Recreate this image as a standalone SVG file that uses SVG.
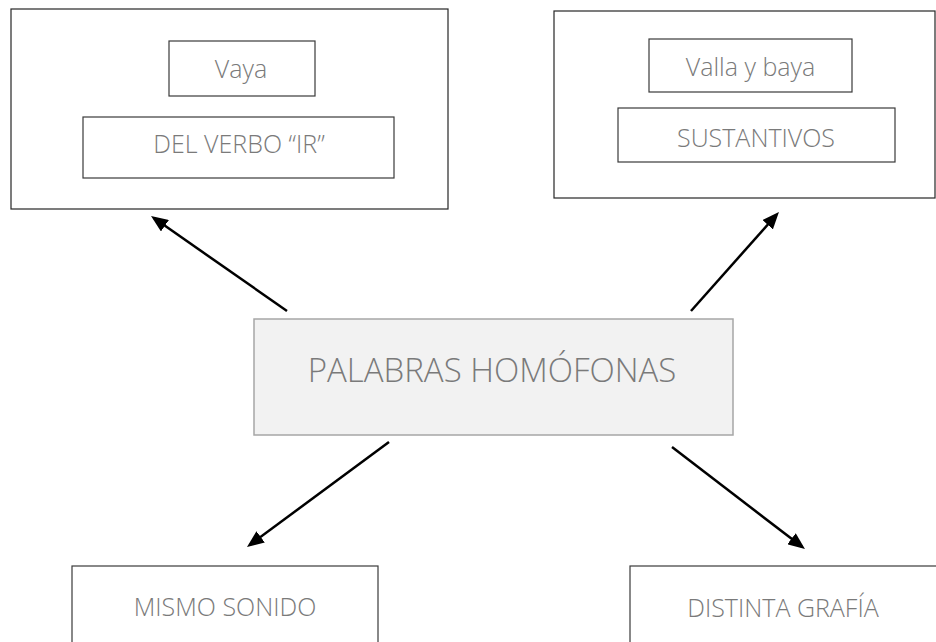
<svg xmlns="http://www.w3.org/2000/svg" width="936" height="642" viewBox="0 0 936 642">
<style>
.outer{fill:#ffffff;stroke:#262626;stroke-width:1.2}
.inner{fill:#ffffff;stroke:#3a3a3a;stroke-width:1.2}
.center{fill:#f2f2f2;stroke:#a6a6a6;stroke-width:1.5}
.t{font-family:"Open Sans","Noto Sans","Liberation Sans",sans-serif;font-weight:300;fill:#7a7a7a;text-anchor:middle}
.s24{font-size:25px}
.s32{font-size:33px}
.conn{stroke:#000;stroke-width:2.5;fill:none;marker-end:url(#ah)}
</style>
<defs>
<marker id="ah" markerUnits="userSpaceOnUse" viewBox="0 0 17 14" markerWidth="17" markerHeight="14" refX="13" refY="7" orient="auto">
<path d="M0,0 L17,7 L0,14 z" fill="#000"/>
</marker>
</defs>
<rect width="936" height="642" fill="#ffffff"/>
<g id="n-ir">
<rect class="outer" x="11" y="9" width="437" height="200"/>
<rect class="inner" x="169" y="41" width="146" height="55"/>
<text class="t s24" x="241" y="78">Vaya</text>
<rect class="inner" x="83" y="117" width="311" height="61"/>
<text class="t s24" x="239" y="153">DEL VERBO “IR”</text>
</g>
<g id="n-sust">
<rect class="outer" x="554" y="11" width="381" height="187"/>
<rect class="inner" x="649" y="39" width="203" height="53"/>
<text class="t s24" x="750.5" y="76">Valla y baya</text>
<rect class="inner" x="618" y="108" width="277" height="54"/>
<text class="t s24" x="756" y="147">SUSTANTIVOS</text>
</g>
<g id="n-center">
<rect class="center" x="254" y="319" width="479" height="116"/>
<text class="t s32" x="492" y="382">PALABRAS HOMÓFONAS</text>
</g>
<g id="n-mismo">
<rect class="inner" x="72" y="566" width="306" height="90"/>
<text class="t s24" x="225" y="616">MISMO SONIDO</text>
</g>
<g id="n-distinta">
<rect class="inner" x="630" y="566" width="320" height="90"/>
<text class="t s24" x="783" y="617">DISTINTA GRAFÍA</text>
</g>
<g id="connectors">
<line class="conn" x1="287" y1="311" x2="154.3" y2="218.3"/>
<line class="conn" x1="691" y1="311" x2="776.3" y2="215"/>
<line class="conn" x1="389" y1="442" x2="250.2" y2="544.6"/>
<line class="conn" x1="672" y1="447" x2="801.8" y2="546.6"/>
</g>
</svg>
